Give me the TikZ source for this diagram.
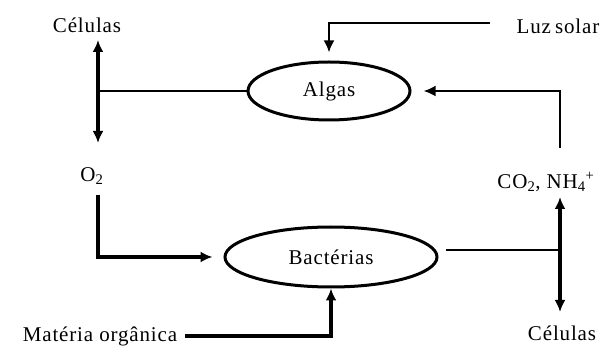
\documentclass[tikz,border=0pt]{standalone}
\usepackage{fontspec}
\setmainfont{Liberation Serif}[LetterSpace=4]
\usetikzlibrary{arrows.meta,shapes.geometric}
\begin{document}
\begin{tikzpicture}[x=1pt,y=-1pt,
  lbl/.style={font=\fontsize{21}{24}\selectfont, inner sep=0pt},
  org/.style={ellipse, draw, line width=3pt, inner sep=0pt, font=\fontsize{21}{24}\selectfont},
  wire/.style={line width=2.8pt},
  heavy/.style={line width=4pt},
  tip/.style={-{Latex[length=12pt,width=11pt]}},
  both/.style={{Latex[length=12pt,width=11pt]}-{Latex[length=12pt,width=11pt]}}]
\useasboundingbox (0,0) rectangle (605,347);
% nodes
\node[lbl] (celtop) at (87,25) {Células};
\node[lbl] (luz) at (558,26) {Luz\hspace{-2pt} solar};
\node[lbl] (o2) at (92,176) {O\textsubscript{2}};
\node[lbl] (co2) at (546,182) {CO\textsubscript{2}, NH\textsubscript{4}\textsuperscript{+}};
\node[lbl] (mat) at (100,336) {Matéria orgânica};
\node[lbl] (celbot) at (562,333) {Células};
\node[org, minimum width=162pt, minimum height=58pt] (algas) at (329,91) {Algas};
\node[org, minimum width=212pt, minimum height=60pt] (bact) at (331,257) {Bactérias};
% coordinates
\coordinate (ltop) at (98,40);
\coordinate (lbot) at (98,143);
\coordinate (jl) at (98,91);
\coordinate (luzs) at (490,23);
\coordinate (co2s) at (560,148);
\coordinate (o2s) at (98,195);
\coordinate (jrs) at (446,250);
\coordinate (jr) at (560,250);
\coordinate (rtop) at (560,197);
\coordinate (rbot) at (560,312);
% connectors
\draw[heavy, both] (ltop) -- (lbot);
\draw[wire] (algas.west) -- (jl);
\draw[wire, tip, shorten >=8pt] (luzs) -| (algas.north);
\draw[wire, tip, shorten >=12pt] (co2s) |- (algas.east);
\draw[heavy, tip, shorten >=11pt] (o2s) |- (bact.west);
\draw[wire] (jrs) -- (jr);
\draw[heavy, both] (rtop) -- (rbot);
\draw[heavy, tip, shorten <=8pt] (mat.east) -| (bact.south);
\end{tikzpicture}
\end{document}
